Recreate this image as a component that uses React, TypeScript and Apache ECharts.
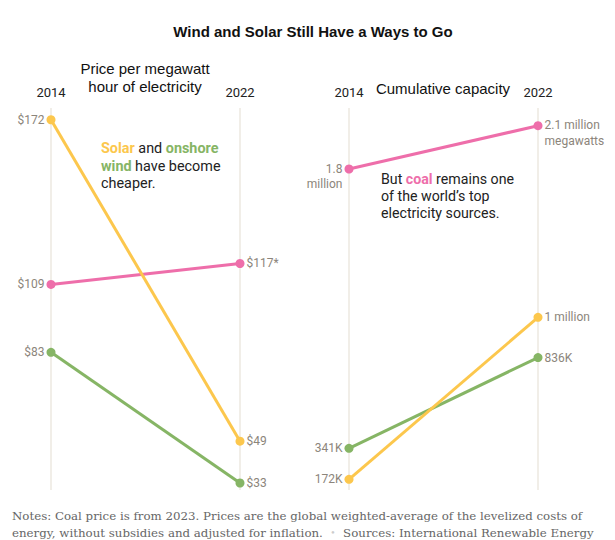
import React, { useEffect, useRef } from "react";
import * as echarts from "echarts";

const years = ["2014", "2022"];

// Price per MWh (USD)
const solarPrice = [172, 49];
const coalPrice = [109, 117];
const windPrice = [83, 33];
const solarPriceLabels = ["$172", "$49"];
const coalPriceLabels = ["$109", "$117*"];
const windPriceLabels = ["$83", "$33"];

// Cumulative capacity (thousand MW)
const coalCap = [1864, 2100];
const solarCap = [172, 1055];
const windCap = [341, 836];
const coalCapLabels = ["1.8\nmillion", "2.1 million\nmegawatts"];
const solarCapLabels = ["172K", "1 million"];
const windCapLabels = ["341K", "836K"];

const YELLOW = "#fcc74d";
const PINK = "#ee6eaa";
const GREEN = "#86b565";
const LABEL = "#8c857b";
const SANS = "Roboto, 'Liberation Sans', sans-serif";
const NARROW = "'Liberation Sans Narrow', 'Liberation Sans', sans-serif";
const SERIF = "'DejaVu Serif', serif";

function pts(values: number[], labels: string[]) {
  return values.map((v, i) => {
    const left = i === 0;
    const twoLines = labels[i].includes("\n");
    return {
      value: v,
      label: {
        show: true,
        position: left ? "left" : "right",
        distance: 2,
        formatter: labels[i],
        color: LABEL,
        fontSize: 12,
        fontFamily: SANS,
        align: left ? "right" : "left",
        lineHeight: twoLines ? 15.5 : 14,
        offset: twoLines ? [0, 7.5] : [0, 0],
      },
    };
  });
}

function lineSeries(name: string, color: string, data: any[], idx: number) {
  return {
    name,
    type: "line",
    xAxisIndex: idx,
    yAxisIndex: idx,
    data,
    symbol: "circle",
    symbolSize: 9,
    showSymbol: true,
    itemStyle: { color },
    lineStyle: { color, width: 3 },
    emphasis: { disabled: true },
    z: 3,
  };
}

export default function App() {
  const ref = useRef<HTMLDivElement>(null);
  useEffect(() => {
    document.body.style.margin = "0";
    const chart = echarts.init(ref.current!, undefined, { renderer: "svg" });
    const xAxisBase = {
      type: "category",
      data: years,
      boundaryGap: false,
      position: "top",
      axisLine: { show: false },
      axisTick: { show: false },
      axisLabel: { color: "#222", fontSize: 13, fontFamily: SANS, margin: 9 },
      splitLine: { show: true, lineStyle: { color: "#ede9e0", width: 1.5 } },
    };
    chart.setOption({
      animation: false,
      grid: [
        { left: 51, right: 375, top: 108, bottom: 50 },
        { left: 349, right: 77, top: 108, bottom: 50 },
      ],
      xAxis: [
        { ...xAxisBase, gridIndex: 0 },
        { ...xAxisBase, gridIndex: 1 },
      ],
      yAxis: [
        { type: "value", gridIndex: 0, min: 30.32, max: 176.5, show: false, splitLine: { show: false } },
        { type: "value", gridIndex: 1, min: 113.7, max: 2196.6, show: false, splitLine: { show: false } },
      ],
      series: [
        lineSeries("Coal price", PINK, pts(coalPrice, coalPriceLabels), 0),
        lineSeries("Wind price", GREEN, pts(windPrice, windPriceLabels), 0),
        lineSeries("Solar price", YELLOW, pts(solarPrice, solarPriceLabels), 0),
        lineSeries("Coal capacity", PINK, pts(coalCap, coalCapLabels), 1),
        lineSeries("Wind capacity", GREEN, pts(windCap, windCapLabels), 1),
        lineSeries("Solar capacity", YELLOW, pts(solarCap, solarCapLabels), 1),
      ],
      graphic: [
        {
          type: "text",
          x: 313,
          y: 31,
          style: {
            text: "Wind and Solar Still Have a Ways to Go",
            fill: "#111",
            font: `bold 15px ${NARROW}`,
            align: "center",
            verticalAlign: "middle",
          },
        },
        {
          type: "text",
          x: 145,
          y: 77,
          style: {
            text: "Price per megawatt\nhour of electricity",
            fill: "#111",
            font: `15px ${NARROW}`,
            lineHeight: 18,
            align: "center",
            verticalAlign: "middle",
          },
        },
        {
          type: "text",
          x: 443,
          y: 88,
          style: {
            text: "Cumulative capacity",
            fill: "#111",
            font: `15px ${NARROW}`,
            align: "center",
            verticalAlign: "middle",
          },
        },
        {
          type: "text",
          x: 101,
          y: 140,
          style: {
            text: "{s|Solar} and {w|onshore}\n{w|wind} have become\ncheaper.",
            fill: "#222",
            fontSize: 14.4,
            fontFamily: SANS,
            lineHeight: 17.5,
            verticalAlign: "top",
            rich: {
              s: { fill: YELLOW, color: YELLOW, fontWeight: "bold", fontSize: 14.4, fontFamily: SANS, lineHeight: 17.5 },
              w: { fill: GREEN, color: GREEN, fontWeight: "bold", fontSize: 14.4, fontFamily: SANS, lineHeight: 17.5 },
            },
          },
        },
        {
          type: "text",
          x: 381,
          y: 170.5,
          style: {
            text: "But {c|coal} remains one\nof the world\u2019s top\nelectricity sources.",
            fill: "#222",
            fontSize: 14.2,
            fontFamily: SANS,
            lineHeight: 17,
            verticalAlign: "top",
            rich: {
              c: { fill: PINK, color: PINK, fontWeight: "bold", fontSize: 14.2, fontFamily: SANS, lineHeight: 17 },
            },
          },
        },
        {
          type: "text",
          x: 12,
          y: 507.5,
          style: {
            text:
              "Notes: Coal price is from 2023. Prices are the global weighted-average of the levelized costs of\nenergy, without subsidies and adjusted for inflation.  {b|\u2022}  Sources: International Renewable Energy",
            fill: "#666",
            font: `11.8px ${SERIF}`,
            lineHeight: 17,
            verticalAlign: "top",
            rich: {
              b: { fill: "#ccc", color: "#ccc", fontSize: 9, fontFamily: SERIF, lineHeight: 17 },
            },
          },
        },
      ],
    });
    return () => chart.dispose();
  }, []);
  return <div ref={ref} style={{ width: 615, height: 540 }} />;
}
